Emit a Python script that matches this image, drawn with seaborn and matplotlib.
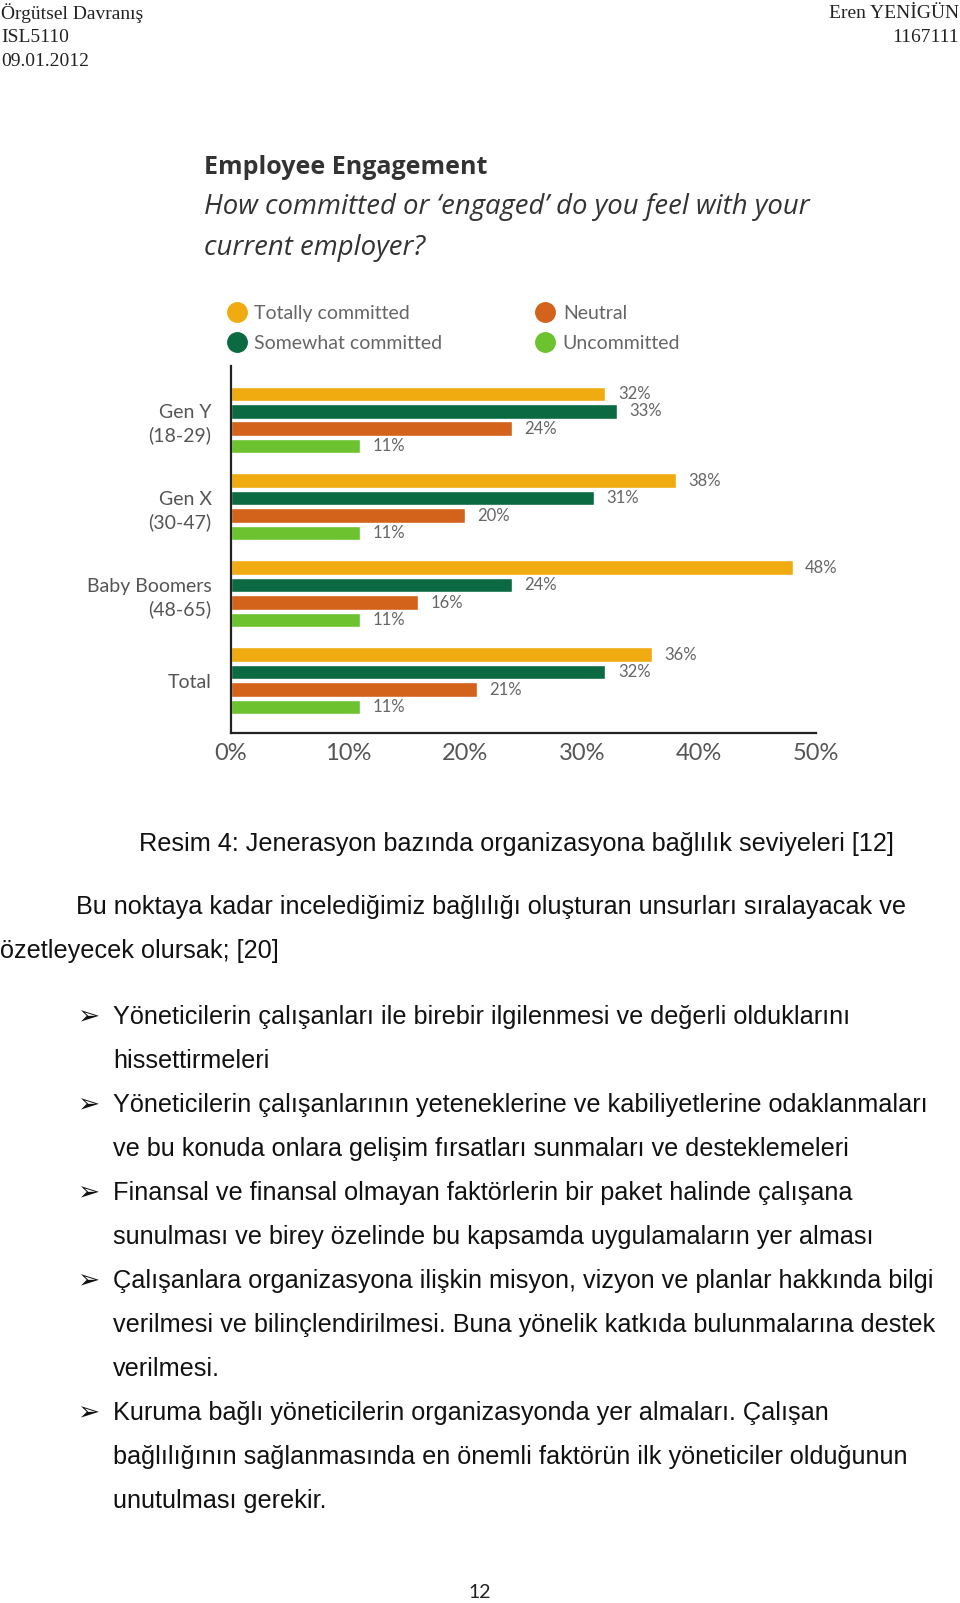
import matplotlib
matplotlib.use("Agg")
import matplotlib.pyplot as plt
from matplotlib.lines import Line2D
import seaborn as sns
import pandas as pd

# ---------------- data ----------------
groups = ["Gen Y\n(18-29)", "Gen X\n(30-47)", "Baby Boomers\n(48-65)", "Total"]
levels = ["Totally committed", "Somewhat committed", "Neutral", "Uncommitted"]
totally_committed = [32, 38, 48, 36]
somewhat_committed = [33, 31, 24, 32]
neutral = [24, 20, 16, 21]
uncommitted = [11, 11, 11, 11]
x_ticks = [0, 10, 20, 30, 40, 50]
x_tick_labels = ["0%", "10%", "20%", "30%", "40%", "50%"]

colors = ["#F0AB10", "#0B6A42", "#D3621B", "#6CC22F"]

header_left = ["Örgütsel Davranış", "ISL5110", "09.01.2012"]
header_right = ["Eren YENİGÜN", "1167111"]
chart_title = "Employee Engagement"
chart_subtitle = ["How committed or \u2018engaged\u2019 do you feel with your",
                  "current employer?"]
caption = "Resim 4: Jenerasyon bazında organizasyona bağlılık seviyeleri [12]"
intro = ["Bu noktaya kadar incelediğimiz bağlılığı oluşturan unsurları sıralayacak ve",
         "özetleyecek olursak; [20]"]
bullet_lines = [
    (True, "Yöneticilerin çalışanları ile birebir ilgilenmesi ve değerli olduklarını"),
    (False, "hissettirmeleri"),
    (True, "Yöneticilerin çalışanlarının yeteneklerine ve kabiliyetlerine odaklanmaları"),
    (False, "ve bu konuda onlara gelişim fırsatları sunmaları ve desteklemeleri"),
    (True, "Finansal ve finansal olmayan faktörlerin bir paket halinde çalışana"),
    (False, "sunulması ve birey özelinde bu kapsamda uygulamaların yer alması"),
    (True, "Çalışanlara organizasyona ilişkin misyon, vizyon ve planlar hakkında bilgi"),
    (False, "verilmesi ve bilinçlendirilmesi. Buna yönelik katkıda bulunmalarına destek"),
    (False, "verilmesi."),
    (True, "Kuruma bağlı yöneticilerin organizasyonda yer almaları. Çalışan"),
    (False, "bağlılığının sağlanmasında en önemli faktörün ilk yöneticiler olduğunun"),
    (False, "unutulması gerekir."),
]
page_number = "12"

# ---------------- figure ----------------
sns.set_theme(style="white")
plt.rcParams["font.family"] = ["Lato", "DejaVu Sans"]

W, H = 960, 1603
fig = plt.figure(figsize=(W / 100, H / 100), dpi=100)
fig.patch.set_facecolor("white")


def T(x, y, s, **kw):
    kw.setdefault("va", "center")
    return fig.text(x / W, 1 - y / H, s, **kw)


# header
serif = ["Liberation Serif", "DejaVu Serif"]
for i, s in enumerate(header_left):
    T(1, 13 + 24.5 * i, s, family=serif, fontsize=14, color="#222")
for i, s in enumerate(header_right):
    T(959, 13 + 24.5 * i, s, family=serif, fontsize=14, color="#222", ha="right")

# chart title
T(204, 167, chart_title, family=["Open Sans", "DejaVu Sans"], fontsize=18,
  fontweight="bold", color="#333")
for i, s in enumerate(chart_subtitle):
    T(204, 207 + 41 * i, s, family=["Open Sans", "DejaVu Sans"], fontsize=19.8,
      style="italic", color="#333")

# ---------------- chart ----------------
df = pd.DataFrame({
    "group": groups * 4,
    "level": [levels[0]] * 4 + [levels[1]] * 4 + [levels[2]] * 4 + [levels[3]] * 4,
    "value": totally_committed + somewhat_committed + neutral + uncommitted,
})

ax = fig.add_axes([231 / W, 1 - 733 / H, (816 - 231) / W, (733 - 366) / H])
sns.barplot(data=df, x="value", y="group", hue="level", orient="h",
            palette=colors, width=0.8, gap=0.16, legend=False, ax=ax,
            saturation=1)
ax.set_xlim(0, 50)
ax.set_ylim(3.6, -0.62)
ax.set_xlabel("")
ax.set_ylabel("")
ax.set_xticks(x_ticks)
ax.set_xticklabels(x_tick_labels, fontsize=17, color="#555")
ax.tick_params(axis="x", length=0, pad=7)
ax.tick_params(axis="y", length=0, pad=14, labelsize=14, labelcolor="#555")
for lab in ax.get_yticklabels():
    lab.set_multialignment("right")
    lab.set_linespacing(1.35)
for side in ["top", "right"]:
    ax.spines[side].set_visible(False)
for side in ["left", "bottom"]:
    ax.spines[side].set_color("#222")
    ax.spines[side].set_linewidth(1.6)

for cont in ax.containers:
    vals = [int(round(b.get_width())) for b in cont]
    ax.bar_label(cont, labels=[f"{v}%" for v in vals], padding=9,
                 fontsize=12, color="#666")

handles = [Line2D([0], [0], marker="o", linestyle="", markersize=14,
                  markerfacecolor=c, markeredgecolor=c) for c in colors]
fig.legend(handles, levels, ncol=2, loc="upper left",
           bbox_to_anchor=(225 / W, 1 - 305 / H), frameon=False,
           fontsize=14, labelcolor="#666", handletextpad=0.3,
           columnspacing=4.7, labelspacing=0.66, handlelength=1.2,
           borderpad=0, borderaxespad=0)

# ---------------- document text ----------------
body = ["Liberation Sans", "DejaVu Sans"]
fs = 18.2
T(139, 844, caption, family=body, fontsize=fs, color="#111")
T(76, 907, intro[0], family=body, fontsize=fs, color="#111")
T(0, 951, intro[1], family=body, fontsize=fs, color="#111")

y0 = 1017.4
for i, (is_bullet, s) in enumerate(bullet_lines):
    y = y0 + 43.97 * i
    if is_bullet:
        T(77, y, "\u27A2", family=["DejaVu Sans"], fontsize=19, color="#111")
    T(113, y, s, family=body, fontsize=fs, color="#111")

T(480, 1592, page_number, fontsize=14, color="#222", ha="center")

fig.savefig("out.png", dpi=100)
